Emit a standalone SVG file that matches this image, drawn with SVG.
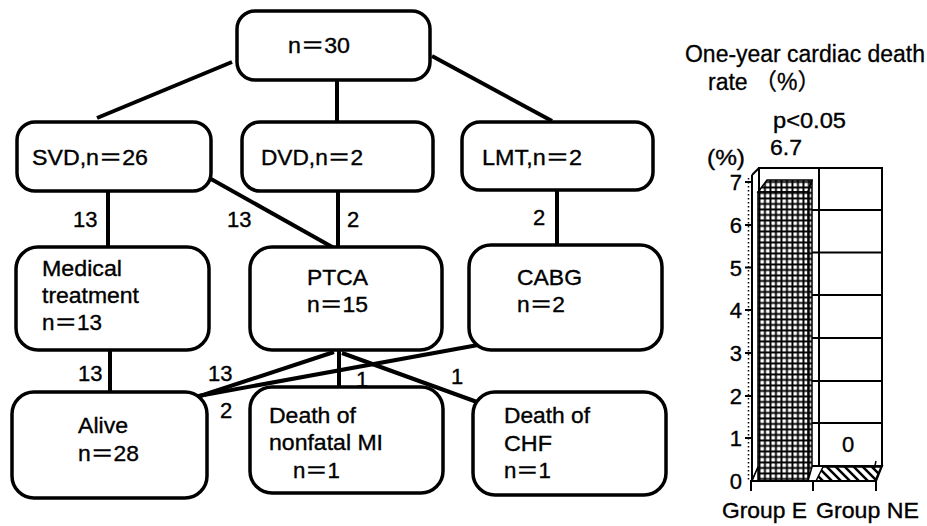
<svg xmlns="http://www.w3.org/2000/svg" width="927" height="526" viewBox="0 0 927 526">
<style>
.t{font-family:"Liberation Sans","Noto Sans CJK JP",sans-serif;font-size:22px;fill:#000;stroke:#000;stroke-width:0.35}
.ti{font-family:"Liberation Sans","Noto Sans CJK JP",sans-serif;font-size:23px;fill:#000;stroke:#000;stroke-width:0.3}
.box{fill:#fff;stroke:#000;stroke-width:3.5}
.con line{stroke:#000;stroke-width:4;stroke-linecap:butt}
.ax{stroke:#000;stroke-width:2;fill:none}
.thin{stroke:#000;stroke-width:1.5;fill:none}
</style>
<defs>
<pattern id="grid" patternUnits="userSpaceOnUse" width="5.5" height="5.5">
<rect width="5.5" height="5.5" fill="#000"/>
<rect x="1.4" y="1.4" width="3.6" height="3.6" fill="#fff"/>
</pattern>
<pattern id="hatch" patternUnits="userSpaceOnUse" width="9" height="9">
<rect width="9" height="9" fill="#fff"/>
<path d="M-2,-2 L11,11 M-2,7 L2,11 M7,-2 L11,2" stroke="#000" stroke-width="2.5"/>
</pattern>
</defs>
<rect width="927" height="526" fill="#fff"/>

<g id="connectors" class="con">
<line x1="232" y1="62" x2="97" y2="118"/>
<line x1="337" y1="80" x2="337" y2="122"/>
<line x1="432" y1="56" x2="552" y2="121"/>
<line x1="108" y1="191" x2="108" y2="247"/>
<line x1="211" y1="179" x2="334" y2="248"/>
<line x1="338" y1="191" x2="338" y2="248"/>
<line x1="557" y1="190" x2="557" y2="245"/>
<line x1="110" y1="350" x2="110" y2="392"/>
<line x1="334" y1="352" x2="194" y2="398"/>
<line x1="478" y1="345" x2="193" y2="397"/>
<line x1="339" y1="350" x2="339" y2="387"/>
<line x1="342" y1="353" x2="477" y2="402"/>
<text class="t" x="73" y="227">13</text>
<text class="t" x="227" y="227">13</text>
<text class="t" x="347" y="227">2</text>
<text class="t" x="533" y="225">2</text>
<text class="t" x="78" y="381">13</text>
<text class="t" x="208" y="381">13</text>
<text class="t" x="220" y="418">2</text>
<text class="t" x="356" y="387">1</text>
<text class="t" x="451" y="384">1</text>
</g>

<g id="n30"><rect class="box" x="237" y="11" width="193" height="69" rx="18"/>
<text class="t" x="288" y="53" textLength="62" lengthAdjust="spacingAndGlyphs">n＝30</text></g>
<g id="svd"><rect class="box" x="17" y="122" width="194" height="69" rx="18"/>
<text class="t" x="32" y="165" textLength="116" lengthAdjust="spacingAndGlyphs">SVD,n＝26</text></g>
<g id="dvd"><rect class="box" x="242" y="122" width="191" height="69" rx="18"/>
<text class="t" x="261" y="165" textLength="102" lengthAdjust="spacingAndGlyphs">DVD,n＝2</text></g>
<g id="lmt"><rect class="box" x="462" y="122" width="191" height="68" rx="18"/>
<text class="t" x="482" y="165" textLength="100" lengthAdjust="spacingAndGlyphs">LMT,n＝2</text></g>

<g id="medical"><rect class="box" x="16" y="247" width="193" height="103" rx="22"/>
<text class="t" x="42" y="276" textLength="80" lengthAdjust="spacingAndGlyphs">Medical</text>
<text class="t" x="42" y="303" textLength="97" lengthAdjust="spacingAndGlyphs">treatment</text>
<text class="t" x="42" y="330" textLength="60" lengthAdjust="spacingAndGlyphs">n＝13</text></g>
<g id="ptca"><rect class="box" x="250" y="247" width="192" height="103" rx="22"/>
<text class="t" x="307" y="285" textLength="61" lengthAdjust="spacingAndGlyphs">PTCA</text>
<text class="t" x="307" y="312" textLength="61" lengthAdjust="spacingAndGlyphs">n＝15</text></g>
<g id="cabg"><rect class="box" x="469" y="245" width="193" height="105" rx="22"/>
<text class="t" x="517" y="285" textLength="65" lengthAdjust="spacingAndGlyphs">CABG</text>
<text class="t" x="517" y="312" textLength="48" lengthAdjust="spacingAndGlyphs">n＝2</text></g>

<g id="alive"><rect class="box" x="12" y="392" width="195" height="106" rx="22"/>
<text class="t" x="78" y="433" textLength="50" lengthAdjust="spacingAndGlyphs">Alive</text>
<text class="t" x="78" y="461" textLength="61" lengthAdjust="spacingAndGlyphs">n＝28</text></g>
<g id="nonfatal"><rect class="box" x="250" y="387" width="193" height="106" rx="22"/>
<text class="t" x="269" y="423" textLength="87" lengthAdjust="spacingAndGlyphs">Death of</text>
<text class="t" x="269" y="450" textLength="114" lengthAdjust="spacingAndGlyphs">nonfatal MI</text>
<text class="t" x="293" y="478" textLength="47" lengthAdjust="spacingAndGlyphs">n＝1</text></g>
<g id="chf"><rect class="box" x="473" y="392" width="193" height="103" rx="22"/>
<text class="t" x="504" y="423" textLength="86" lengthAdjust="spacingAndGlyphs">Death of</text>
<text class="t" x="504" y="451" textLength="48" lengthAdjust="spacingAndGlyphs">CHF</text>
<text class="t" x="504" y="478" textLength="47" lengthAdjust="spacingAndGlyphs">n＝1</text></g>

<g id="chart">
<text class="ti" x="685" y="62" textLength="240" lengthAdjust="spacingAndGlyphs">One-year cardiac death</text>
<text class="ti" x="708" y="90">rate （%）</text>
<text class="t" x="773" y="128" textLength="73" lengthAdjust="spacingAndGlyphs">p&lt;0.05</text>
<text class="t" x="770" y="155" textLength="32" lengthAdjust="spacingAndGlyphs">6.7</text>
<text class="t" x="707" y="165" textLength="38" lengthAdjust="spacingAndGlyphs">(%)</text>
<!-- back wall -->
<rect class="ax" x="759" y="168" width="123" height="298"/>
<line class="ax" x1="819" y1="168" x2="819" y2="466"/>
<g class="ax">
<line x1="812" y1="210" x2="882" y2="210"/>
<line x1="812" y1="252.5" x2="882" y2="252.5"/>
<line x1="812" y1="295" x2="882" y2="295"/>
<line x1="812" y1="338" x2="882" y2="338"/>
<line x1="812" y1="381" x2="882" y2="381"/>
<line x1="812" y1="423" x2="882" y2="423"/>
</g>
<!-- left side wall -->
<line class="ax" x1="752" y1="175" x2="752" y2="481"/>
<line class="ax" x1="752" y1="175" x2="759" y2="168"/>
<line x1="748.5" y1="178" x2="748.5" y2="481" stroke="#000" stroke-width="1.5" stroke-dasharray="1.5 2.5"/>
<g class="ax">
<line x1="745" y1="182" x2="752" y2="182"/>
<line x1="745" y1="225" x2="752" y2="225"/>
<line x1="745" y1="267.5" x2="752" y2="267.5"/>
<line x1="745" y1="310" x2="752" y2="310"/>
<line x1="745" y1="353" x2="752" y2="353"/>
<line x1="745" y1="396" x2="752" y2="396"/>
<line x1="745" y1="438" x2="752" y2="438"/>
</g>
<!-- floor -->
<polygon class="ax" points="752,481 759,466 882,466 876,481" fill="#fff"/>
<!-- bar E -->
<polygon points="758,192 767,180 812,180 808,192" fill="url(#grid)" stroke="#000" stroke-width="1.5"/>
<polygon points="808,192 812,180 812,467 808,481" fill="url(#grid)" stroke="#000" stroke-width="1.5"/>
<rect x="758" y="192" width="50" height="289" fill="url(#grid)" stroke="#000" stroke-width="1.5"/>
<polygon points="752,481 758,467 758,481" fill="#fff" stroke="#000" stroke-width="1.5"/>
<!-- bar NE (zero) -->
<polygon points="816,481 823,467 881,467 875,481" fill="url(#hatch)" stroke="#000" stroke-width="1.5"/>
<line class="thin" x1="874" y1="470" x2="876" y2="461"/>
<text class="t" x="848" y="452" text-anchor="middle">0</text>
<!-- x axis -->
<line class="ax" x1="750" y1="481" x2="877" y2="481"/>
<line class="ax" x1="751" y1="481" x2="751" y2="491"/>
<line class="ax" x1="813" y1="481" x2="813" y2="491"/>
<line class="ax" x1="876" y1="481" x2="876" y2="491"/>
<!-- y labels -->
<text class="t" x="742" y="489" text-anchor="end">0</text>
<text class="t" x="742" y="446" text-anchor="end">1</text>
<text class="t" x="742" y="404" text-anchor="end">2</text>
<text class="t" x="742" y="361" text-anchor="end">3</text>
<text class="t" x="742" y="318" text-anchor="end">4</text>
<text class="t" x="742" y="276" text-anchor="end">5</text>
<text class="t" x="742" y="233" text-anchor="end">6</text>
<text class="t" x="742" y="190" text-anchor="end">7</text>
<text class="t" x="722" y="518" textLength="85" lengthAdjust="spacingAndGlyphs">Group E</text>
<text class="t" x="816" y="518" textLength="103" lengthAdjust="spacingAndGlyphs">Group NE</text>
</g>
</svg>
